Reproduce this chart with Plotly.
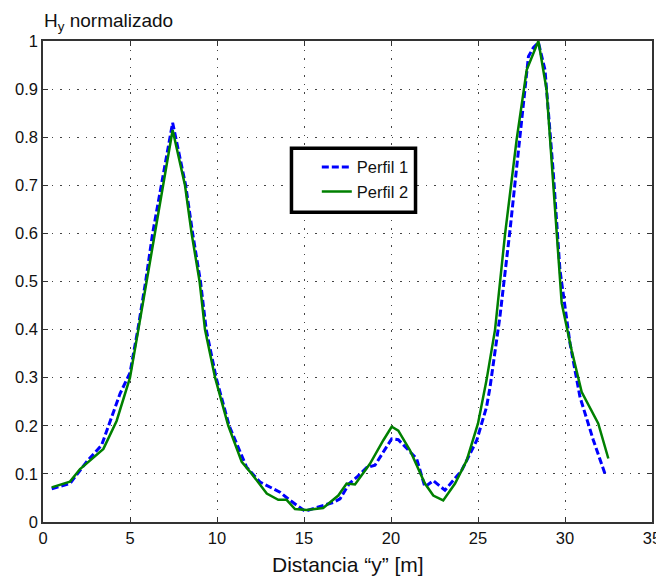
import plotly.graph_objects as go

# Perfil 1 (blue dashed)
x_p1 = [0.5, 1.55, 2.5, 3.37, 4.43, 5.0, 5.45, 5.9, 6.3, 6.8, 7.45, 8.2, 8.6, 9.05, 9.38,
        9.95, 10.7, 11.7, 12.47, 13.62, 14.2, 15.06, 15.9, 16.7, 17.07, 17.6, 18.03, 18.6,
        19.08, 20.04, 20.42, 21.47, 21.95, 22.43, 23.1, 24.06, 24.93, 25.49, 25.69, 26.26,
        26.84, 27.6, 27.9, 28.18, 28.47, 28.85, 29.33, 29.71, 30.29, 30.86, 31.63, 32.3]
y_p1 = [0.069, 0.080, 0.125, 0.16, 0.267, 0.31, 0.40, 0.50, 0.60, 0.70, 0.83, 0.70, 0.60,
        0.50, 0.40, 0.30, 0.20, 0.114, 0.083, 0.062, 0.045, 0.0225, 0.032, 0.041, 0.048,
        0.08, 0.093, 0.113, 0.118, 0.173, 0.171, 0.132, 0.073, 0.086, 0.066, 0.107, 0.17,
        0.239, 0.28, 0.427, 0.607, 0.87, 0.968, 0.986, 0.997, 0.94, 0.725, 0.524, 0.371,
        0.26, 0.17, 0.10]

# Perfil 2 (green solid)
x_p2 = [0.5, 1.55, 2.13, 3.47, 4.23, 5.0, 5.48, 5.96, 6.4, 6.9, 7.45, 8.16, 8.54, 9.0,
        9.31, 9.89, 10.65, 11.42, 12.0, 12.86, 13.52, 14.0, 14.48, 15.15, 16.1, 16.97,
        17.45, 17.93, 18.79, 19.56, 20.04, 20.42, 21.09, 21.95, 22.43, 23.0, 23.68, 24.35,
        25.0, 25.49, 25.98, 26.55, 27.22, 27.8, 28.47, 28.94, 29.33, 29.81, 30.38, 30.96,
        31.91, 32.49]
y_p2 = [0.072, 0.084, 0.11, 0.152, 0.21, 0.30, 0.40, 0.50, 0.60, 0.70, 0.815, 0.70, 0.60,
        0.50, 0.40, 0.30, 0.20, 0.125, 0.10, 0.059, 0.046, 0.046, 0.027, 0.025, 0.029,
        0.055, 0.08, 0.078, 0.121, 0.17, 0.198, 0.19, 0.149, 0.08, 0.055, 0.045, 0.08,
        0.128, 0.205, 0.295, 0.40, 0.597, 0.795, 0.94, 1.0, 0.899, 0.698, 0.455, 0.357,
        0.27, 0.205, 0.132]

x_ticks = [0, 5, 10, 15, 20, 25, 30, 35]
y_ticks = [0, 0.1, 0.2, 0.3, 0.4, 0.5, 0.6, 0.7, 0.8, 0.9, 1]
y_tick_labels = ["0", "0.1", "0.2", "0.3", "0.4", "0.5", "0.6", "0.7", "0.8", "0.9", "1"]

FONT = "Arial, Liberation Sans, sans-serif"

fig = go.Figure()
fig.add_trace(go.Scatter(x=x_p1, y=y_p1, mode="lines", name="Perfil 1",
                         line=dict(color="#0000ff", width=3, dash="7px,3px")))
fig.add_trace(go.Scatter(x=x_p2, y=y_p2, mode="lines", name="Perfil 2",
                         line=dict(color="#008000", width=2.5)))

axis_common = dict(
    showline=True, linecolor="#333333", linewidth=1.5, mirror="ticks",
    ticks="inside", ticklen=5, tickcolor="#333333",
    showgrid=True, gridcolor="#444444", griddash="1.5px,7px", gridwidth=1.2,
    zeroline=False, automargin=False,
    tickfont=dict(family=FONT, size=16.5, color="#111111"),
)

fig.update_xaxes(range=[0, 35], tickvals=x_ticks, **axis_common)
fig.update_yaxes(range=[0, 1], tickvals=y_ticks, ticktext=y_tick_labels, **axis_common)

fig.add_annotation(text="H<sub>y</sub> normalizado", xref="paper", yref="paper",
                   x=-0.002, y=1.040, xanchor="left", yanchor="middle", showarrow=False,
                   font=dict(family=FONT, size=19, color="#111111"))
fig.add_annotation(text="Distancia \u201cy\u201d [m]", xref="paper", yref="paper",
                   x=0.5, y=-0.0885, xanchor="center", yanchor="middle", showarrow=False,
                   font=dict(family=FONT, size=21, color="#111111"))

# legend frame (thick black box, white fill)
fig.add_shape(type="rect", xref="paper", yref="paper",
              x0=0.408, x1=0.6117, y0=0.644, y1=0.777,
              fillcolor="white", line=dict(color="black", width=3.5), layer="above")

# page body has an 8px margin: shrink the figure so the plot lands where the reference has it
fig.update_layout(
    width=656, height=570,
    margin=dict(l=35, r=12, t=33, b=56),
    paper_bgcolor="white", plot_bgcolor="white",
    showlegend=True,
    legend=dict(x=0.4496, y=0.774, xanchor="left", yanchor="top",
                bgcolor="rgba(0,0,0,0)", borderwidth=0,
                font=dict(family=FONT, size=16.5, color="#111111"),
                tracegroupgap=0),
)

fig.write_html("out.html")
